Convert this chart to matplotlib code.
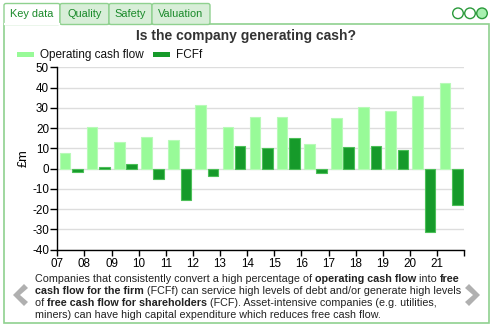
import numpy as np
import matplotlib
matplotlib.use("Agg")
import matplotlib.pyplot as plt
from matplotlib.patches import Rectangle, FancyBboxPatch, Circle, Polygon

plt.rcParams['font.family'] = ['Liberation Sans', 'DejaVu Sans']

# cash flow data, £m
years = ["07", "08", "09", "10", "11", "12", "13", "14", "15", "16", "17", "18", "19", "20", "21"]
operating_cf = [7.9, 20.6, 13.0, 15.8, 14.3, 31.6, 20.7, 25.7, 25.5, 12.3, 25.2, 30.3, 28.6, 36.0, 42.4]
fcff = [-1.8, 1.0, 2.1, -5.1, -15.5, -3.8, 11.0, 10.4, 15.0, -2.1, 10.9, 11.2, 9.0, -31.2, -18.1]
y_ticks = [-40, -30, -20, -10, 0, 10, 20, 30, 40, 50]
tabs = ["Key data", "Quality", "Safety", "Valuation"]

W, H = 495, 328
fig = plt.figure(figsize=(W / 100, H / 100), dpi=100)

# overlay axes in pixel coords (y down) for the panel decoration
deco = fig.add_axes([0, 0, 1, 1])
deco.set_xlim(0, W)
deco.set_ylim(H, 0)
deco.axis('off')

green_border = '#8fd18f'
tab_text = '#1a8a2a'

# panel frame
deco.add_patch(Rectangle((4, 24), 484.5, 299, fill=False, ec=green_border, lw=1.2))

# tabs
tab_edges = [4, 60, 109, 152, 210]
for i, name in enumerate(tabs):
    x0, x1 = tab_edges[i], tab_edges[i + 1]
    fc = 'white' if i == 0 else '#d8eed8'
    deco.add_patch(FancyBboxPatch((x0, 3.5), x1 - x0, 21, boxstyle="round,pad=0,rounding_size=2",
                                  fc=fc, ec=green_border, lw=1.0))
    deco.text((x0 + x1) / 2, 14, name, ha='center', va='center', fontsize=7.9, color=tab_text)
# white gap under the selected tab
deco.plot([4.6, 59.4], [24, 24], color='white', lw=1.6)

# page dots
for k, cx in enumerate([458, 470, 482]):
    fc = '#a8f0b0' if k == 2 else 'white'
    deco.add_patch(Circle((cx, 13.3), 5.3, fc=fc, ec='#2a9a3a', lw=1.0))

# navigation chevrons
grey = '#b0b0b0'
deco.add_patch(Polygon([[24, 284], [28, 288], [20, 295], [28, 302], [24, 306], [13, 295]], closed=True, fc=grey, ec='none'))
deco.add_patch(Polygon([[469, 284], [465, 288], [473, 295], [465, 302], [469, 306], [480, 295]], closed=True, fc=grey, ec='none'))

# title and legend
deco.text(246.5, 36, "Is the company generating cash?", ha='center', va='center',
          fontsize=10, fontweight='bold', color='#333333')
light = '#98fa98'
dark = '#169a2a'
deco.add_patch(Rectangle((17, 51.5), 17, 5, fc=light, ec='none'))
deco.text(40.5, 55, "Operating cash flow", ha='left', va='center', fontsize=8.5, color='#111111')
deco.add_patch(Rectangle((153, 51.5), 17, 5, fc=dark, ec='none'))
deco.text(176, 55, "FCFf", ha='left', va='center', fontsize=8.5, color='#111111')

# chart
ax = fig.add_axes([57.3 / W, (H - 249.7) / H, (464.3 - 57.3) / W, (249.7 - 67.3) / H])
x = np.arange(len(years))
ax.bar(x + 0.09, operating_cf, width=0.39, align='edge', color=light, edgecolor='#b8fab8', lw=0.8, zorder=3)
ax.bar(x + 0.545, fcff, width=0.39, align='edge', color=dark, edgecolor='#4cbf58', lw=0.8, zorder=3)

ax.set_xlim(0, len(years))
ax.set_ylim(-40, 50)
ax.set_xticks(np.arange(len(years) + 1))
ax.set_xticklabels(years + [""])
ax.set_yticks(y_ticks)
ax.set_yticklabels([str(v) for v in y_ticks])
ax.yaxis.grid(True, color='#dddddd', lw=1)
ax.set_axisbelow(True)
for s in ['top', 'right']:
    ax.spines[s].set_visible(False)
for s in ['left', 'bottom']:
    ax.spines[s].set_color('black')
    ax.spines[s].set_linewidth(1)
ax.tick_params(axis='both', labelsize=8.4, colors='black', width=1)
ax.tick_params(axis='y', length=5, pad=1)
ax.tick_params(axis='x', length=4, pad=2)
ax.set_ylabel("£m", fontsize=9.2, labelpad=2)
ax.patch.set_alpha(0)

# description with bold key phrases
lines = [
    [("Companies that consistently convert a high percentage of ", False), ("operating cash flow", True),
     (" into ", False), ("free", True)],
    [("cash flow for the firm", True), (" (FCFf) can service high levels of debt and/or generate high levels", False)],
    [("of ", False), ("free cash flow for shareholders", True), (" (FCF). Asset-intensive companies (e.g. utilities,", False)],
    [("miners) can have high capital expenditure which reduces free cash flow.", False)],
]
renderer = fig.canvas.get_renderer()
for li, parts in enumerate(lines):
    cx = 35.0
    cy = 279.5 + li * 12.0
    for txt, bold in parts:
        t = deco.text(cx, cy, txt, ha='left', va='center', fontsize=7.75, color='#222222',
                      fontweight='bold' if bold else 'normal')
        bb = t.get_window_extent(renderer=renderer)
        cx += bb.width

fig.savefig("out.png", dpi=100)
